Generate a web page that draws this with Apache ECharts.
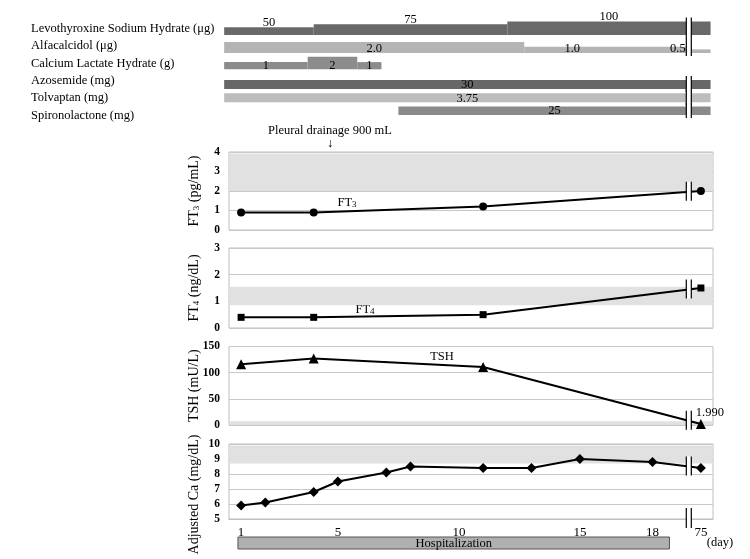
<!DOCTYPE html>
<html>
<head>
<meta charset="utf-8">
<script src="https://cdn.jsdelivr.net/npm/echarts@6/dist/echarts.min.js"></script>
<style>
  html, body { margin: 0; padding: 0; background: #fff; }
  #chart { width: 750px; height: 559px; }
</style>
</head>
<body>
<div id="chart"></div>
<script>
// x axis days (19 hospital days, then the jump to day 75)
const days = ['1', '2', '3', '4', '5', '6', '7', '8', '9', '10', '11', '12', '13', '14', '15', '16', '17', '18', '19', '75'];
const shownDays = ['1', '5', '10', '15', '18', '75'];

// medication rows: [start day, end day, dose]
const drugNames = ['Levothyroxine Sodium Hydrate (μg)', 'Alfacalcidol (μg)', 'Calcium Lactate Hydrate (g)', 'Azosemide (mg)', 'Tolvaptan (mg)', 'Spironolactone (mg)'];
const levothyroxine = [[0.3, 4, 50], [4, 12, 75], [12, 75.4, 100]];
const alfacalcidol = [[0.3, 12.7, 2.0], [12.7, 19.4, 1.0], [74.6, 75.4, 0.5]];
const calciumLactate = [[0.3, 3.75, 1], [3.75, 5.8, 2], [5.8, 6.8, 1]];
const azosemide = [[0.3, 75.4, 30]];
const tolvaptan = [[0.3, 75.4, 3.75]];
const spironolactone = [[7.5, 75.4, 25]];
const doseDecimals = [0, 1, 0, 0, 2, 0];

// labs
const ft3Days = [1, 4, 11, 75];
const ft3Vals = [0.9, 0.9, 1.2, 2.0];
const ft3Range = [2, 4];
const ft4Days = [1, 4, 11, 75];
const ft4Vals = [0.4, 0.4, 0.5, 1.5];
const ft4Range = [0.85, 1.55];
const tshDays = [1, 4, 11, 75];
const tshVals = [116, 127, 111, 1.99];
const tshRange = [0.5, 7];
const caDays = [1, 2, 4, 5, 7, 8, 11, 13, 15, 18, 75];
const caVals = [5.9, 6.1, 6.8, 7.5, 8.1, 8.5, 8.4, 8.4, 9.0, 8.8, 8.4];
const caRange = [8.7, 10];
const hospitalization = [0.87, 18.7];

// styling
const FONT = '"Liberation Serif", "DejaVu Serif", serif';
const drugColor = ['#696969', '#b4b4b4', '#8c8c8c', '#676767', '#bdbdbd', '#8a8a8a'];
const drugThick = [13.5, 11, 12.6, 9, 9, 8.5];
const drugDy = [6.3, 7, 6, 8.3, 4.3, -0.3];
const labelShift = { '1-1': -33, '1-2': -23 };
const BREAK_IDX = 18.5;
const subRich = { s: { fontSize: 9, fontFamily: FONT, color: '#000', verticalAlign: 'bottom' } };

const dayIdx = d => (d >= 70 ? 19 + (d - 75) : d - 1);

const drugSegs = [levothyroxine, alfacalcidol, calciumLactate, azosemide, tolvaptan, spironolactone];
const maxDose = drugSegs.map(segs => Math.max(...segs.map(s => s[2])));
const drugData = [];
drugSegs.forEach((segs, row) => {
  segs.forEach((s, k) => drugData.push([dayIdx(s[0]), row, dayIdx(s[1]), s[2], k, row]));
});

function breakMark(x, y1, y2) {
  return {
    type: 'group',
    children: [
      { type: 'rect', shape: { x: x - 2.5, y: y1, width: 5, height: y2 - y1 }, style: { fill: '#fff' } },
      { type: 'line', shape: { x1: x - 2.5, y1: y1, x2: x - 2.5, y2: y2 }, style: { stroke: '#000', lineWidth: 1.2 } },
      { type: 'line', shape: { x1: x + 2.5, y1: y1, x2: x + 2.5, y2: y2 }, style: { stroke: '#000', lineWidth: 1.2 } }
    ]
  };
}

// x pixel at a fractional category index
function xAt(api, idx) {
  return api.coord([0, 0])[0] + idx * api.size([1, 0])[0];
}

const panels = [
  { name: 'FT{s|3} (pg/mL)', days: ft3Days, vals: ft3Vals, range: ft3Range, min: 0, max: 4, interval: 1, symbol: 'circle', size: 8, top: 152, height: 78 },
  { name: 'FT{s|4} (ng/dL)', days: ft4Days, vals: ft4Vals, range: ft4Range, min: 0, max: 3, interval: 1, symbol: 'rect', size: 7, top: 248, height: 80 },
  { name: 'TSH (mU/L)', days: tshDays, vals: tshVals, range: tshRange, min: 0, max: 150, interval: 50, symbol: 'triangle', size: 10, top: 346.5, height: 78.5 },
  { name: 'Adjusted Ca (mg/dL)', days: caDays, vals: caVals, range: caRange, min: 5, max: 10, interval: 1, symbol: 'diamond', size: 10, top: 444, height: 75 }
];

const grid = [{ left: 229, right: 37, top: 20, height: 104 }];
const xAxis = [{ type: 'value', gridIndex: 0, min: -0.5, max: 19.5, show: false }];
const yAxis = [{
  type: 'category', gridIndex: 0, data: drugNames, inverse: true,
  axisLine: { show: false }, axisTick: { show: false },
  axisLabel: { align: 'left', margin: 198, fontSize: 12.5, fontFamily: FONT, color: '#000' }
}];

const series = [
  {
    type: 'custom', xAxisIndex: 0, yAxisIndex: 0, clip: false, z: 3,
    encode: { x: [0, 2], y: 1 },
    data: drugData,
    renderItem(params, api) {
      const x0 = api.value(0), x1 = api.value(2), dose = api.value(3), k = api.value(4), row = api.value(5);
      const p0 = api.coord([x0, row]);
      const p1 = api.coord([x1, row]);
      const bottom = p0[1] + drugDy[row];
      const h = drugThick[row] * Math.pow(dose / maxDose[row], 0.8);
      const above = row === 0;
      const lx = (p0[0] + p1[0]) / 2 + (labelShift[row + '-' + k] || 0);
      return {
        type: 'group',
        children: [
          { type: 'rect', shape: { x: p0[0], y: bottom - h, width: p1[0] - p0[0], height: h }, style: { fill: drugColor[row] } },
          {
            type: 'text', z2: 5,
            style: {
              text: dose.toFixed(doseDecimals[row]), x: lx, y: above ? bottom - h + 2 : bottom - 4,
              align: 'center', verticalAlign: above ? 'bottom' : 'middle',
              font: '12.5px ' + FONT, fill: '#000'
            }
          }
        ]
      };
    }
  },
  {
    type: 'custom', xAxisIndex: 0, yAxisIndex: 0, clip: false, z: 5,
    data: [[BREAK_IDX, 0], [BREAK_IDX, 1], [BREAK_IDX, 3], [BREAK_IDX, 4], [BREAK_IDX, 5]],
    renderItem(params, api) {
      const row = [0, 1, 3, 4, 5][params.dataIndex];
      const p = api.coord([BREAK_IDX, row]);
      const bottom = p[1] + drugDy[row];
      return breakMark(p[0], bottom - drugThick[row] - 4, bottom + 3);
    }
  }
];

panels.forEach((pn, i) => {
  const gi = i + 1;
  const last = i === panels.length - 1;
  grid.push({ left: 229, right: 37, top: pn.top, height: pn.height, show: true, borderColor: '#bfbfbf', borderWidth: 1 });
  xAxis.push({
    type: 'category', gridIndex: gi, data: days, show: last,
    axisLine: { lineStyle: { color: '#bfbfbf' } },
    axisTick: { interval: 0, length: 3, lineStyle: { color: '#bfbfbf' } },
    axisLabel: {
      interval: (idx, val) => shownDays.includes(val),
      fontSize: 13, fontFamily: FONT, color: '#000', margin: 7
    }
  });
  yAxis.push({
    type: 'value', gridIndex: gi, min: pn.min, max: pn.max, interval: pn.interval,
    name: pn.name, nameLocation: 'middle', nameGap: 28, nameMoveOverlap: false,
    nameTextStyle: { fontSize: 14, fontFamily: FONT, color: '#000', rich: subRich, padding: last ? [0, 26, 0, 0] : 0 },
    axisLine: { show: false }, axisTick: { show: false },
    axisLabel: { fontSize: 11.5, fontWeight: 'bold', fontFamily: FONT, color: '#000', margin: 9 },
    splitLine: { lineStyle: { color: '#c8c8c8' } }
  });
  // reference range band
  series.push({
    type: 'custom', xAxisIndex: gi, yAxisIndex: gi, z: 1, silent: true,
    data: [[0, pn.range[0]]],
    renderItem(params, api) {
      const cs = params.coordSys;
      const yHi = Math.max(api.coord([0, pn.range[1]])[1], cs.y + 1.5);
      const yLo = Math.min(api.coord([0, pn.range[0]])[1], cs.y + cs.height - 1);
      return { type: 'rect', shape: { x: cs.x + 1, y: yHi, width: cs.width - 2, height: yLo - yHi }, style: { fill: '#e1e1e1' } };
    }
  });
  const lineData = pn.days.map((d, j) => [String(d), pn.vals[j]]);
  if (i === 2) {
    const n = lineData.length - 1;
    lineData[n] = {
      value: lineData[n],
      label: { show: true, position: 'top', offset: [9, 5], formatter: p => p.value[1].toFixed(3), fontSize: 12.5, fontFamily: FONT, color: '#000' }
    };
  }
  series.push({
    type: 'line', xAxisIndex: gi, yAxisIndex: gi, z: 3,
    data: lineData,
    symbol: pn.symbol, symbolSize: pn.size,
    lineStyle: { color: '#000', width: 2 },
    itemStyle: { color: '#000' }
  });
  // break marks
  series.push({
    type: 'custom', xAxisIndex: gi, yAxisIndex: gi, z: 4, clip: false, silent: true,
    data: [[0, pn.min]],
    renderItem(params, api) {
      const n = pn.days.length;
      const ia = dayIdx(pn.days[n - 2]), ib = dayIdx(pn.days[n - 1]);
      const xa = xAt(api, ia), xb = xAt(api, ib);
      const ya = api.coord([0, pn.vals[n - 2]])[1], yb = api.coord([0, pn.vals[n - 1]])[1];
      const bx = xAt(api, BREAK_IDX);
      const by = ya + (yb - ya) * (bx - xa) / (xb - xa);
      const children = [breakMark(bx, by - 10, by + 9)];
      if (last) {
        const ay = api.coord([0, pn.min])[1];
        children.push(breakMark(bx, ay - 11, ay + 9));
      }
      return { type: 'group', children };
    }
  });
});

// hospitalization bar under the Ca panel
series.push({
  type: 'custom', xAxisIndex: 4, yAxisIndex: 4, clip: false, silent: true, z: 3,
  data: [[0, 5]],
  renderItem(params, api) {
    const x0 = xAt(api, dayIdx(hospitalization[0]));
    const x1 = xAt(api, dayIdx(hospitalization[1]));
    const yb = api.coord([0, 5])[1];
    return {
      type: 'group',
      children: [
        { type: 'rect', shape: { x: x0, y: yb + 18, width: x1 - x0, height: 12 }, style: { fill: '#b0b0b0', stroke: '#555', lineWidth: 1 } },
        { type: 'text', style: { text: 'Hospitalization', x: (x0 + x1) / 2, y: yb + 24.5, align: 'center', verticalAlign: 'middle', font: '12.5px ' + FONT, fill: '#000' } }
      ]
    };
  }
});

const txt = (text, x, y) => ({
  type: 'text', x, y,
  style: { text, font: '12.5px ' + FONT, fill: '#000', align: 'center', verticalAlign: 'middle', rich: subRich }
});

const option = {
  animation: false,
  grid, xAxis, yAxis, series,
  graphic: [
    txt('Pleural drainage 900 mL', 330, 131),
    txt('↓', 330, 144),
    txt('FT{s|3}', 347, 203),
    txt('FT{s|4}', 365, 310),
    txt('TSH', 442, 357),
    txt('Adjusted Ca', 443, 457),
    txt('(day)', 720, 543)
  ]
};

const chart = echarts.init(document.getElementById('chart'));
chart.setOption(option);
</script>
</body>
</html>
